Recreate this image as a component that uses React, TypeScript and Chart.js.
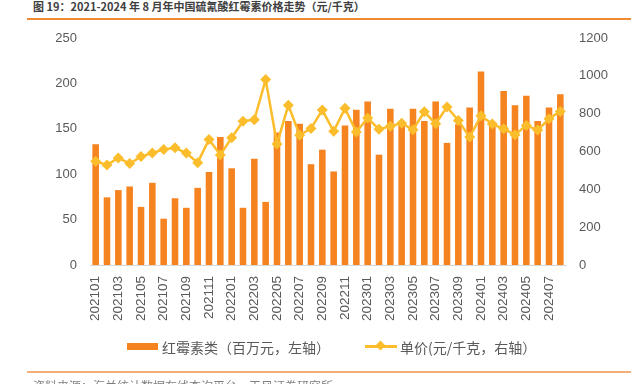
import React, { useEffect, useRef } from "react";
import { Chart, registerables } from "chart.js";

Chart.register(...registerables);

const months: string[] = [
  "202101", "202102", "202103", "202104", "202105", "202106", "202107", "202108", "202109", "202110", "202111", "202112",
  "202201", "202202", "202203", "202204", "202205", "202206", "202207", "202208", "202209", "202210", "202211", "202212",
  "202301", "202302", "202303", "202304", "202305", "202306", "202307", "202308", "202309", "202310",
  "202401", "202402", "202403", "202404", "202405", "202406", "202407", "202408",
];

const salesValues: number[] = [
  133, 74.5, 82.5, 86.5, 64, 90.5, 51, 73.5, 63, 85, 102.5, 141,
  106.5, 63, 117, 69.5, 146, 158.5, 155.5, 111, 127, 103, 153.5, 171,
  180, 121.5, 172, 156, 172, 158.5, 180, 134.5, 155, 173.5,
  213, 156, 191.5, 176, 186.5, 158.5, 173.5, 188,
];

const unitPrices: number[] = [
  548, 529, 566, 536, 573, 592, 611, 620, 592, 541, 664, 582,
  673, 760, 768, 980, 640, 845, 686, 722, 819, 707, 828, 703,
  777, 717, 734, 750, 715, 810, 747, 835, 764, 676,
  789, 745, 720, 689, 738, 713, 773, 812,
];

const barLabel = "红霉素类（百万元，左轴）";
const lineLabel = "单价(元/千克，右轴）";
const titleText = "图 19：2021-2024 年 8 月年中国硫氰酸红霉素价格走势（元/千克）";
const sourceText = "资料来源：海关统计数据在线查询平台，天风证券研究所";

const BAR_COLOR = "#F5831F";
const LINE_COLOR = "#FBBD2B";
const TEXT_COLOR = "#595959";
const FONT = "'Liberation Sans', 'Noto Sans CJK SC', sans-serif";
const CJK_FONT = "'Noto Sans CJK SC', 'Liberation Sans', sans-serif";

export default function App() {
  const canvasRef = useRef<HTMLCanvasElement | null>(null);

  useEffect(() => {
    if (!canvasRef.current) return;
    const chart = new Chart(canvasRef.current, {
      type: "bar",
      data: {
        labels: months,
        datasets: [
          {
            type: "line",
            label: lineLabel,
            data: unitPrices,
            yAxisID: "y1",
            borderColor: LINE_COLOR,
            backgroundColor: LINE_COLOR,
            borderWidth: 2.5,
            pointStyle: "rectRot",
            pointRadius: 5.5,
            pointBorderWidth: 0,
            tension: 0,
            order: 0,
          },
          {
            type: "bar",
            label: barLabel,
            data: salesValues,
            yAxisID: "y",
            backgroundColor: BAR_COLOR,
            borderWidth: 0,
            barPercentage: 0.58,
            categoryPercentage: 1,
            order: 1,
          },
        ],
      },
      options: {
        responsive: false,
        animation: false,
        layout: { padding: { left: 0, right: 0, top: 38, bottom: 49 } },
        plugins: {
          legend: { display: false },
          tooltip: { enabled: false },
        },
        scales: {
          x: {
            offset: true,
            grid: { display: false, drawTicks: false },
            border: { display: true, color: "#D9D9D9", width: 1 },
            ticks: {
              autoSkip: false,
              minRotation: 90,
              maxRotation: 90,
              padding: 11,
              color: TEXT_COLOR,
              font: { family: FONT, size: 13.5 },
              callback: (_v: any, i: number) => (i % 2 === 0 ? months[i] : ""),
            },
            afterFit: (scale: any) => {
              scale.height = 70;
            },
          },
          y: {
            position: "left",
            min: 0,
            max: 250,
            grid: { display: false, drawTicks: false },
            border: { display: false },
            ticks: {
              stepSize: 50,
              padding: 13,
              color: TEXT_COLOR,
              font: { family: FONT, size: 13 },
              callback: (v: any) => String(v),
            },
            afterFit: (scale: any) => {
              scale.width = 90;
            },
          },
          y1: {
            position: "right",
            min: 0,
            max: 1200,
            grid: { display: false, drawTicks: false },
            border: { display: false },
            ticks: {
              stepSize: 200,
              padding: 13,
              color: TEXT_COLOR,
              font: { family: FONT, size: 13 },
              callback: (v: any) => String(v),
            },
            afterFit: (scale: any) => {
              scale.width = 65;
            },
          },
        },
      },
    });
    return () => chart.destroy();
  }, []);

  return (
    <div style={{ position: "absolute", left: 0, top: 0, width: 631, height: 384, overflow: "hidden", background: "#fff" }}>
      <div
        style={{
          position: "absolute",
          left: 33,
          top: -2,
          fontFamily: CJK_FONT,
          fontSize: 11,
          fontWeight: "bold",
          color: "#404040",
          whiteSpace: "nowrap",
          lineHeight: "16px",
        }}
      >
        {titleText}
      </div>
      <div style={{ position: "absolute", left: 27, top: 18, width: 604, height: 2, background: "#F08A32" }} />
      <canvas ref={canvasRef} width={631} height={384} style={{ position: "absolute", left: 0, top: 0 }} />
      <div style={{ position: "absolute", left: 127, top: 343, width: 31, height: 7, background: BAR_COLOR }} />
      <div
        style={{
          position: "absolute",
          left: 162,
          top: 337,
          fontFamily: CJK_FONT,
          fontSize: 14,
          color: TEXT_COLOR,
          whiteSpace: "nowrap",
          lineHeight: "20px",
        }}
      >
        {barLabel}
      </div>
      <div style={{ position: "absolute", left: 365, top: 345, width: 32, height: 2.5, background: LINE_COLOR }} />
      <div
        style={{
          position: "absolute",
          left: 377,
          top: 342,
          width: 7,
          height: 7,
          background: LINE_COLOR,
          transform: "rotate(45deg)",
        }}
      />
      <div
        style={{
          position: "absolute",
          left: 400,
          top: 337,
          fontFamily: CJK_FONT,
          fontSize: 14,
          color: TEXT_COLOR,
          whiteSpace: "nowrap",
          lineHeight: "20px",
        }}
      >
        {lineLabel}
      </div>
      <div style={{ position: "absolute", left: 27, top: 371, width: 604, height: 2, background: "#F4AE78" }} />
      <div
        style={{
          position: "absolute",
          left: 33,
          top: 378,
          fontFamily: CJK_FONT,
          fontSize: 12,
          color: "#7F7F7F",
          whiteSpace: "nowrap",
          lineHeight: "16px",
        }}
      >
        {sourceText}
      </div>
    </div>
  );
}
